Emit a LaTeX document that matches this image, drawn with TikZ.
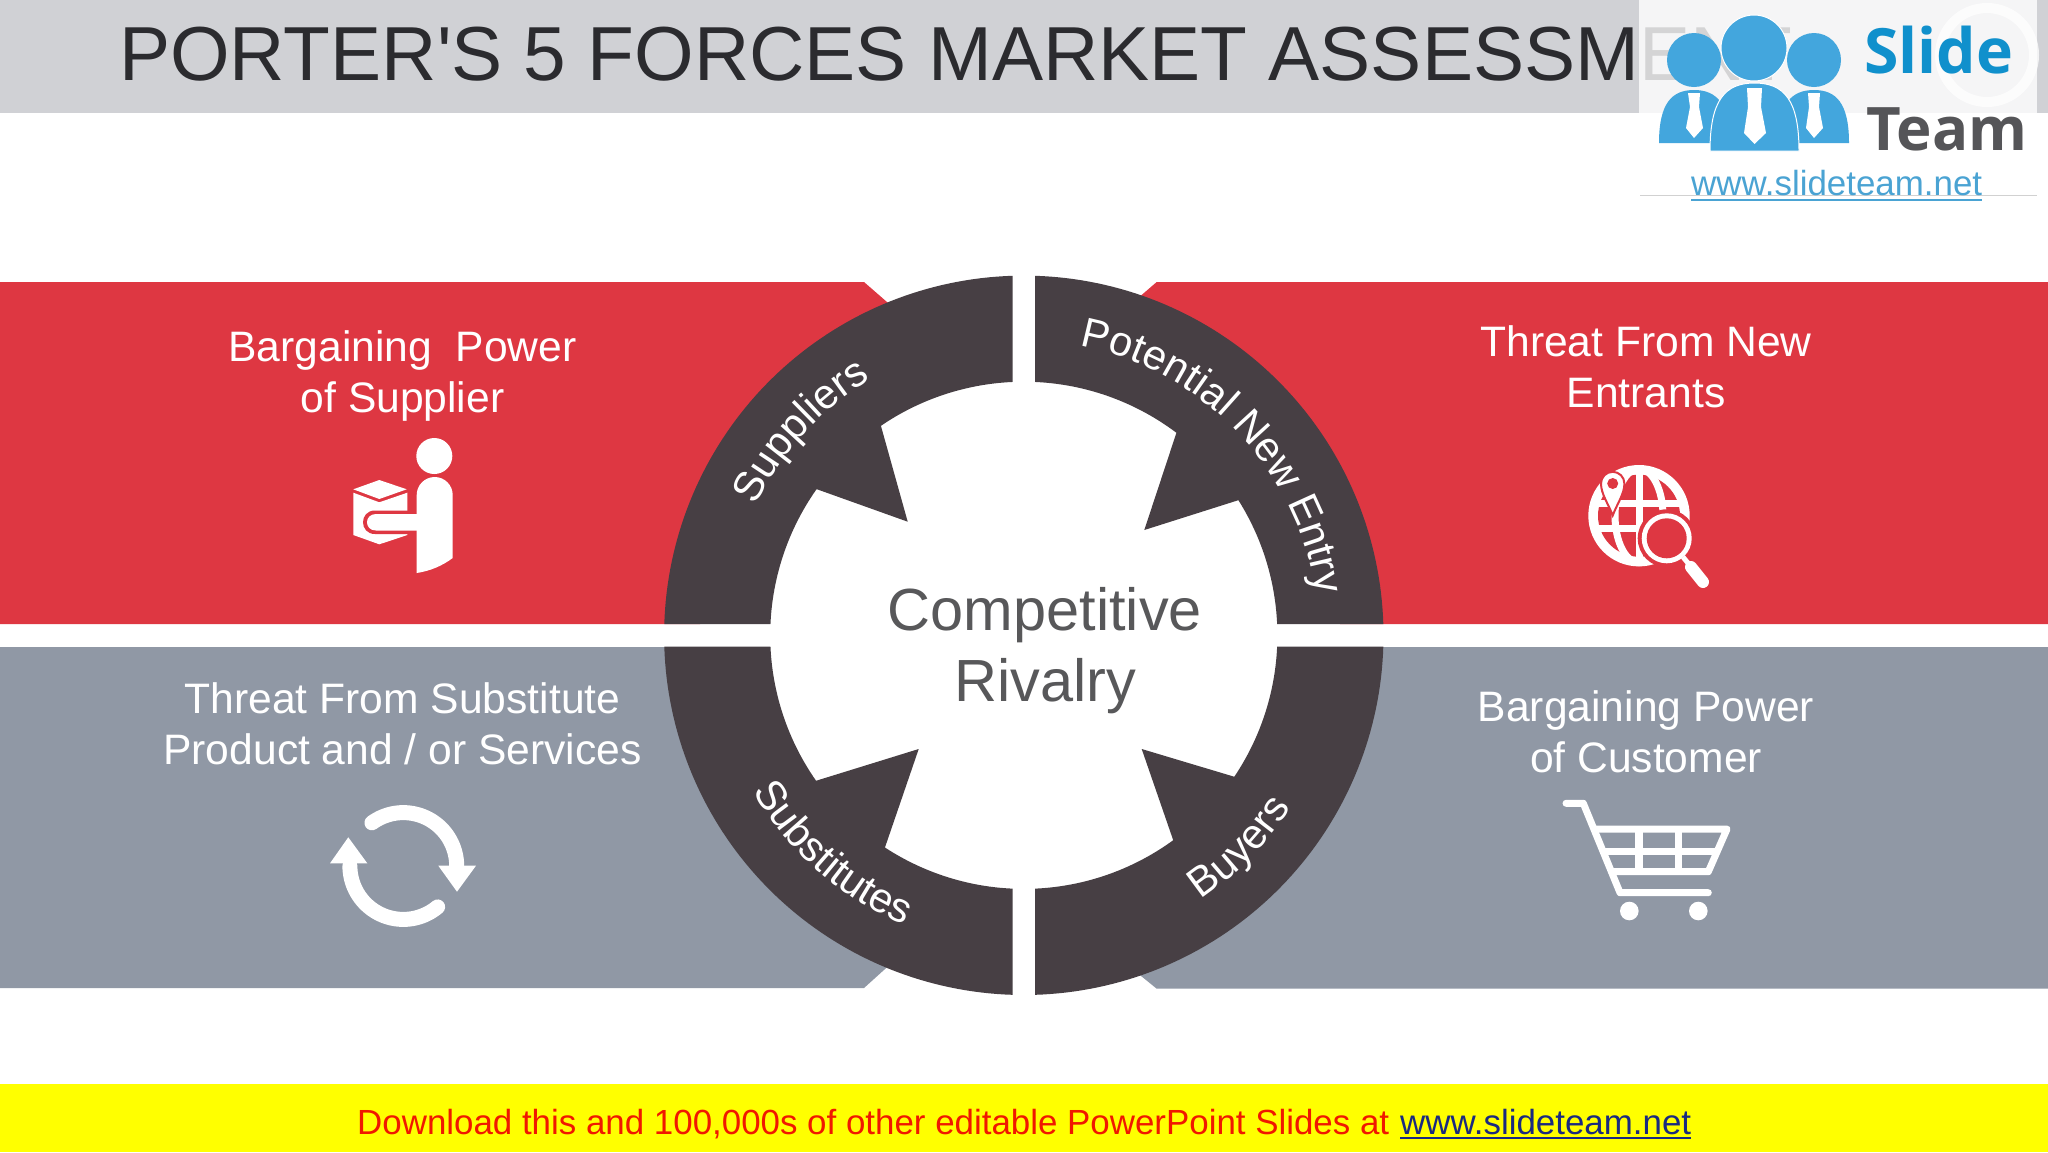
\documentclass[tikz,border=0pt]{standalone}
\usepackage{fontspec}
\usetikzlibrary{decorations.text}
\setmainfont{Liberation Sans}
\newfontfamily\logofont{Open Sans}
\newfontfamily\titlefont{Liberation Sans}
\definecolor{bandred}{HTML}{DE3742}
\definecolor{bandgrey}{HTML}{9098A5}
\definecolor{ringdark}{HTML}{473F44}
\definecolor{titleband}{HTML}{D0D1D5}
\definecolor{titleink}{HTML}{2B2B2F}
\definecolor{centerink}{HTML}{58585A}
\definecolor{logoblue}{HTML}{43A6DD}
\definecolor{slideblue}{HTML}{1090CC}
\definecolor{teamgrey}{HTML}{555558}
\definecolor{linkblue}{HTML}{4AA3D3}
\definecolor{bottomlink}{HTML}{1A2A80}
\definecolor{stripyellow}{HTML}{FFFF00}
\definecolor{promored}{HTML}{F01800}
\def\cx{1023.8}
\def\cy{635.3}
\def\Ro{359.7}
\def\Ri{253.6}
\newcommand\arcfont{\fontsize{41.7}{42}\selectfont\color{white}}
\newcommand\ax[1]{\cx+#1*cos(\x)}
\newcommand\ay[1]{\cy+#1*sin(\x)}
\tikzset{
  bandlabel/.style={font=\fontsize{42.6}{51}\selectfont,text=white,align=center,inner sep=0pt},
  iconfill/.style={fill=white,draw=none},
  iconline/.style={draw=white,line join=round},
  ringfill/.style={fill=ringdark,draw=none},
  arclabel/.style={decorate},
}
\begin{document}
\begin{tikzpicture}[x=1pt,y=-1pt]
\useasboundingbox (0,0) rectangle (2048,1152);
\fill[white] (0,0) rectangle (2048,1152);
% title band
\fill[titleband] (0,0) rectangle (2048,113);
\node[anchor=base west,inner sep=0pt,font=\titlefont\fontsize{76.6}{80}\selectfont,text=titleink] (title) at (119,80) {PORTER'S 5 FORCES MARKET ASSESSMENT};
% coloured bands
\fill[bandred] (0,282) -- (864,282) -- (895,309) -- (700,624) -- (0,624) -- cycle;
\fill[bandred] (2048,282) -- (1156.7,282) -- (1130,305) -- (1340,624) -- (2048,624) -- cycle;
\fill[bandgrey] (0,647) -- (700,647) -- (895,960) -- (864,988) -- (0,988) -- cycle;
\fill[bandgrey] (2048,647) -- (1340,647) -- (1130,967) -- (1156.7,988.7) -- (2048,988.7) -- cycle;
% ring segments with inward arrows
\fill[ringfill] plot[domain=181.8:268.2,samples=70] ({\ax{\Ro}},{\ay{\Ro}})
  -- plot[domain=267.45:235.7,samples=30] ({\ax{\Ri}},{\ay{\Ri}})
  -- (907.7,521.7)
  -- plot[domain=215.2:182.55,samples=30] ({\ax{\Ri}},{\ay{\Ri}}) -- cycle;
\fill[ringfill] plot[domain=271.8:358.2,samples=70] ({\ax{\Ro}},{\ay{\Ro}})
  -- plot[domain=357.45:327.8,samples=30] ({\ax{\Ri}},{\ay{\Ri}})
  -- (1144.3,530)
  -- plot[domain=307:272.55,samples=30] ({\ax{\Ri}},{\ay{\Ri}}) -- cycle;
\fill[ringfill] plot[domain=1.8:88.2,samples=70] ({\ax{\Ro}},{\ay{\Ro}})
  -- plot[domain=87.45:53.9,samples=30] ({\ax{\Ri}},{\ay{\Ri}})
  -- (1141.7,749)
  -- plot[domain=33.9:2.55,samples=30] ({\ax{\Ri}},{\ay{\Ri}}) -- cycle;
\fill[ringfill] plot[domain=91.8:178.2,samples=70] ({\ax{\Ro}},{\ay{\Ro}})
  -- plot[domain=177.45:145,samples=30] ({\ax{\Ri}},{\ay{\Ri}})
  -- (918.7,749)
  -- plot[domain=123.2:92.55,samples=30] ({\ax{\Ri}},{\ay{\Ri}}) -- cycle;
% ring labels
\path[arclabel,decoration={text along path,text align=center,text={|\arcfont|Suppliers}}]
  plot[domain=204:241,samples=50] ({\ax{298}},{\ay{298}});
\path[arclabel,decoration={text along path,text align=center,text={|\arcfont|Potential New Entry}}]
  plot[domain=279:354,samples=80] ({\ax{295}},{\ay{295}});
\path[arclabel,decoration={text along path,text align=center,text={|\arcfont|Substitutes}}]
  plot[domain=153.7:108.7,samples=50] ({\ax{313}},{\ay{313}});
\path[arclabel,decoration={text along path,text align=center,text={|\arcfont|Buyers}}]
  plot[domain=58:31,samples=40] ({\ax{318}},{\ay{318}});
% centre
\node[font=\fontsize{59.5}{71}\selectfont,text=centerink,align=center,inner sep=0pt] (centre) at (1045,650.5) {Competitive\\Rivalry};
% band labels
\node[bandlabel] (lblsupplier) at (402.5,376) {Bargaining\ \ Power\\of Supplier};
\node[bandlabel] (lblentrants) at (1646,367) {Threat From New\\Entrants};
\node[bandlabel] (lblsubst) at (402.5,724) {Threat From Substitute\\Product and / or Services};
\node[bandlabel] (lblcustomer) at (1646,732) {Bargaining Power\\of Customer};
% supplier icon
\fill[iconfill] (434.3,456) circle[radius=18pt];
\fill[iconfill] (416.7,495) arc[start angle=180,end angle=0,radius=18pt] -- (452.7,558) .. controls (442,566) and (430,571) .. (416.7,573) -- cycle;
\fill[iconfill] (353.3,489.3) -- (379.3,480) -- (406.7,489.3) -- (379.3,499) -- cycle;
\fill[iconfill] (353.3,492.7) -- (379.3,502.3) -- (407.3,492.7) -- (407.3,535) -- (379.3,544.3) -- (353.3,535) -- cycle;
\fill[bandred] (408,510.5) -- (375,510.5) .. controls (359,510.5) and (359,534) .. (375,534) -- (408,534) -- cycle;
\fill[iconfill] (418,514) -- (376,514) .. controls (364,514) and (364,530.5) .. (376,530.5) -- (418,530.5) -- cycle;
% globe icon
\fill[iconfill] (1639,515.7) circle[radius=50.7pt];
\begin{scope}
  \clip (1639,515.7) circle[radius=41pt];
  \fill[bandred] (1580,460) rectangle (1700,570);
\end{scope}
\draw[iconline,line width=7pt] (1639,515.7) ellipse[x radius=24pt,y radius=47pt];
\draw[iconline,line width=7pt] (1639,468) -- (1639,563);
\draw[iconline,line width=7pt] (1592,503) -- (1686,503);
\draw[iconline,line width=7pt] (1592,528) -- (1686,528);
\fill[iconfill,draw=bandred,line width=2pt] (1612.7,515.5) .. controls (1608,503) and (1601,494) .. (1601,483.5) arc[start angle=180,end angle=0,radius=11.7pt] .. controls (1624.4,494) and (1617.4,503) .. (1612.7,515.5) -- cycle;
\fill[bandred] (1612.7,483.5) circle[radius=5.5pt];
\fill[bandred] (1666.7,538.3) circle[radius=29pt];
\fill[iconfill] (1666.7,538.3) circle[radius=25pt];
\fill[bandred] (1666.7,538.3) circle[radius=20pt];
\draw[iconline,line width=5pt] (1683,557) -- (1692,568);
\draw[iconline,line width=12pt,line cap=round] (1691,567) -- (1703,582);
% recycle icon
\draw[iconline,line width=15pt,line cap=round] plot[domain=234:360,samples=40] ({403.3+53.4*cos(\x)},{866+53.4*sin(\x)});
\fill[iconfill] (438.3,865.7) -- (476,865.7) -- (457,891.7) -- cycle;
\draw[iconline,line width=15pt,line cap=round] plot[domain=50:180,samples=40] ({403.3+53.4*cos(\x)},{866+53.4*sin(\x)});
\fill[iconfill] (330,863.3) -- (367.3,863.3) -- (348.3,837.3) -- cycle;
% cart icon
\draw[iconline,line width=7pt,line cap=round] (1566,803.3) -- (1583.3,803.3) -- (1620,892.7) -- (1708.3,892.7);
\draw[iconline,line width=7pt,line cap=round] (1595,829) -- (1727,829) -- (1708.3,871.7) -- (1612,871.7);
\draw[iconline,line width=7pt] (1603.3,851) -- (1716.7,851);
\draw[iconline,line width=7.5pt] (1639,829) -- (1639,871.7);
\draw[iconline,line width=7.5pt] (1678.3,829) -- (1678.3,871.7);
\fill[iconfill] (1629.3,911) circle[radius=9.3pt];
\fill[iconfill] (1698.3,911) circle[radius=9.3pt];
% logo panel
\fill[white,opacity=0.8] (1639,0) rectangle (2037,113);
\fill[white] (1639,113) rectangle (2037,195);
\draw[color=black!18,line width=0.8pt] (1640,195) -- (2037,195);
\draw[white,opacity=0.75,line width=10pt] (1987,55) circle[radius=47pt];
% logo people
\fill[logoblue] (1659,143) .. controls (1659,103) and (1672,90) .. (1694,90) .. controls (1716,90) and (1730,103) .. (1730,143) -- cycle;
\fill[logoblue] (1778,143) .. controls (1778,103) and (1792,90) .. (1814,90) .. controls (1836,90) and (1849,103) .. (1849,143) -- cycle;
\fill[logoblue] (1694,60) circle[radius=27pt];
\fill[logoblue] (1814,60) circle[radius=27pt];
\fill[logoblue,draw=white,line width=1pt] (1710,151) .. controls (1710,100) and (1725,83) .. (1754.5,83) .. controls (1784,83) and (1799,100) .. (1799,151) -- cycle;
\fill[logoblue,draw=white,line width=1pt] (1754,48) circle[radius=33pt];
\fill[white] (1688,93) -- (1700,93) -- (1699,107) -- (1703,128) -- (1694,138) -- (1686,128) -- (1690,107) -- cycle;
\fill[white] (1808,93) -- (1820,93) -- (1819,107) -- (1823,128) -- (1814,138) -- (1806,128) -- (1809,107) -- cycle;
\fill[white] (1747,88) -- (1762,88) -- (1761,107) -- (1766,133) -- (1754.5,144) -- (1744,133) -- (1748,107) -- cycle;
\node[anchor=base west,inner sep=0pt,font=\logofont\bfseries\fontsize{62.5}{62}\selectfont,text=slideblue] (slide) at (1864,73) {Slide};
\node[anchor=base west,inner sep=0pt,font=\logofont\bfseries\fontsize{60}{60}\selectfont,text=teamgrey] (team) at (1866,150) {Team};
\node[anchor=base west,inner sep=0pt,font=\fontsize{34.9}{36}\selectfont,text=linkblue] (logolink) at (1691,195) {www.slideteam.net};
\draw[linkblue,line width=2pt] (1691,200) -- (1982,200);
% bottom strip
\fill[stripyellow] (0,1084) rectangle (2048,1152);
\node[anchor=base west,inner sep=0pt,font=\fontsize{34.9}{36}\selectfont,text=promored] (promo) at (357,1134) {Download this and 100,000s of other editable PowerPoint Slides at};
\node[anchor=base west,inner sep=0pt,font=\fontsize{34.9}{36}\selectfont,text=bottomlink] (promolink) at (1400,1134) {www.slideteam.net};
\draw[bottomlink,line width=2pt] (1400,1138) -- (1691,1138);
\end{tikzpicture}
\end{document}
